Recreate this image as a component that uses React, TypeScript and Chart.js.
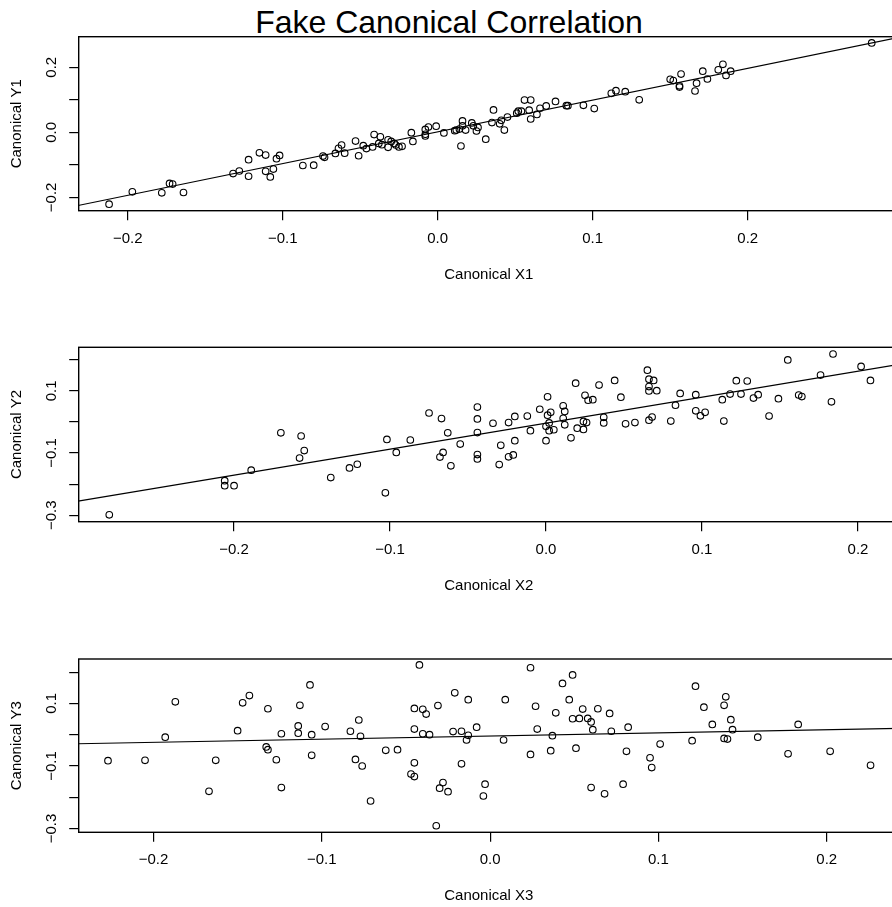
import React, { useEffect, useRef } from 'react';
import { Chart, registerables } from 'chart.js';

Chart.register(...registerables);

// ---------- Data ----------
const titleText = 'Fake Canonical Correlation';

const x1 = [-0.212, -0.197, -0.178, -0.173, -0.171, -0.164, -0.132, -0.128, -0.122, -0.122, -0.115, -0.111, -0.111, -0.108, -0.106, -0.104, -0.102, -0.087, -0.080, -0.074, -0.073, -0.066, -0.064, -0.062, -0.060, -0.053, -0.051, -0.048, -0.046, -0.042, -0.041, -0.037, -0.038, -0.036, -0.032, -0.032, -0.030, -0.028, -0.027, -0.025, -0.023, -0.017, -0.016, -0.008, -0.008, -0.008, -0.006, -0.001, 0.004, 0.011, 0.012, 0.015, 0.014, 0.016, 0.016, 0.018, 0.022, 0.023, 0.025, 0.026, 0.031, 0.035, 0.036, 0.040, 0.041, 0.043, 0.045, 0.051, 0.052, 0.054, 0.056, 0.060, 0.059, 0.060, 0.064, 0.066, 0.070, 0.076, 0.083, 0.084, 0.094, 0.101, 0.112, 0.115, 0.121, 0.130, 0.150, 0.152, 0.157, 0.156, 0.156, 0.167, 0.166, 0.171, 0.174, 0.181, 0.184, 0.186, 0.189, 0.280];
const y1 = [-0.221, -0.183, -0.186, -0.157, -0.159, -0.185, -0.127, -0.119, -0.084, -0.135, -0.063, -0.070, -0.120, -0.137, -0.113, -0.081, -0.071, -0.102, -0.101, -0.073, -0.077, -0.065, -0.049, -0.039, -0.064, -0.027, -0.072, -0.041, -0.050, -0.045, -0.007, -0.014, -0.034, -0.038, -0.023, -0.046, -0.028, -0.034, -0.039, -0.045, -0.043, -0.001, -0.028, -0.011, 0.009, -0.006, 0.016, 0.019, -0.002, 0.005, 0.007, -0.042, 0.010, 0.035, 0.020, 0.007, 0.029, 0.020, 0.004, 0.015, -0.021, 0.030, 0.069, 0.026, 0.037, 0.007, 0.047, 0.059, 0.065, 0.065, 0.099, 0.099, 0.068, 0.041, 0.055, 0.074, 0.081, 0.095, 0.082, 0.082, 0.083, 0.073, 0.120, 0.128, 0.125, 0.100, 0.163, 0.159, 0.179, 0.143, 0.139, 0.151, 0.127, 0.188, 0.164, 0.192, 0.209, 0.175, 0.188, 0.275];

const x2 = [-0.280, -0.206, -0.206, -0.200, -0.189, -0.170, -0.157, -0.155, -0.158, -0.138, -0.126, -0.121, -0.103, -0.102, -0.096, -0.087, -0.075, -0.067, -0.063, -0.066, -0.068, -0.061, -0.055, -0.044, -0.044, -0.044, -0.044, -0.044, -0.034, -0.029, -0.030, -0.024, -0.020, -0.020, -0.024, -0.021, -0.012, -0.010, -0.004, 0.001, 0.003, 0.001, 0.002, 0.000, 0.002, 0.000, 0.005, 0.011, 0.012, 0.011, 0.012, 0.016, 0.019, 0.025, 0.027, 0.030, 0.034, 0.020, 0.024, 0.026, 0.024, 0.037, 0.037, 0.044, 0.048, 0.051, 0.057, 0.065, 0.066, 0.069, 0.066, 0.066, 0.071, 0.066, 0.068, 0.080, 0.083, 0.086, 0.096, 0.096, 0.099, 0.102, 0.113, 0.114, 0.118, 0.122, 0.129, 0.125, 0.133, 0.136, 0.143, 0.149, 0.155, 0.162, 0.164, 0.176, 0.183, 0.184, 0.202, 0.208];
const y2 = [-0.299, -0.189, -0.205, -0.205, -0.155, -0.035, -0.045, -0.092, -0.116, -0.179, -0.148, -0.136, -0.228, -0.056, -0.098, -0.058, 0.029, 0.011, -0.035, -0.098, -0.113, -0.141, -0.071, 0.048, 0.010, -0.034, -0.105, -0.119, -0.004, -0.075, -0.137, -0.002, 0.018, -0.060, -0.112, -0.106, 0.019, -0.028, 0.041, 0.081, 0.031, 0.022, -0.003, -0.014, -0.028, -0.060, -0.025, 0.052, 0.034, 0.012, -0.009, -0.051, 0.125, 0.086, 0.070, 0.072, 0.119, -0.020, 0.002, -0.002, -0.024, -0.003, 0.015, 0.134, 0.080, -0.006, -0.002, 0.167, 0.138, 0.134, 0.114, 0.100, 0.101, 0.006, 0.016, 0.003, 0.054, 0.092, 0.088, 0.036, 0.020, 0.031, 0.072, 0.003, 0.090, 0.133, 0.132, 0.090, 0.077, 0.088, 0.019, 0.075, 0.200, 0.087, 0.082, 0.151, 0.065, 0.219, 0.179, 0.134];

const x3 = [-0.227, -0.205, -0.187, -0.193, -0.167, -0.163, -0.150, -0.147, -0.143, -0.132, -0.133, -0.132, -0.127, -0.124, -0.124, -0.114, -0.114, -0.113, -0.107, -0.106, -0.106, -0.098, -0.083, -0.078, -0.077, -0.080, -0.076, -0.071, -0.062, -0.055, -0.042, -0.045, -0.040, -0.038, -0.045, -0.040, -0.036, -0.045, -0.047, -0.045, -0.031, -0.028, -0.030, -0.025, -0.032, -0.021, -0.022, -0.017, -0.013, -0.013, -0.014, -0.017, -0.008, -0.003, -0.004, 0.009, 0.008, 0.024, 0.027, 0.028, 0.024, 0.036, 0.037, 0.039, 0.043, 0.049, 0.047, 0.051, 0.049, 0.053, 0.055, 0.058, 0.060, 0.061, 0.064, 0.060, 0.068, 0.071, 0.072, 0.079, 0.081, 0.082, 0.095, 0.096, 0.101, 0.120, 0.122, 0.127, 0.132, 0.139, 0.140, 0.143, 0.144, 0.139, 0.141, 0.159, 0.177, 0.183, 0.202, 0.226];
const y3 = [-0.083, -0.082, 0.105, -0.008, -0.181, -0.082, 0.013, 0.102, 0.125, 0.083, -0.039, -0.048, -0.080, -0.169, 0.003, 0.028, 0.005, 0.094, 0.159, 0.000, -0.066, 0.026, 0.011, 0.047, -0.005, -0.079, -0.100, -0.212, -0.050, -0.048, 0.223, 0.084, 0.081, 0.066, 0.018, 0.003, 0.000, -0.090, -0.126, -0.134, 0.093, -0.153, -0.171, -0.182, -0.291, 0.134, 0.010, 0.011, 0.112, -0.002, -0.017, -0.093, 0.024, -0.158, -0.196, 0.112, -0.017, 0.214, 0.091, 0.018, -0.063, -0.051, -0.003, 0.070, 0.164, 0.191, 0.112, -0.043, 0.051, 0.052, 0.082, 0.052, 0.041, 0.016, 0.083, -0.169, -0.189, 0.068, 0.011, -0.158, -0.053, 0.024, -0.074, -0.105, -0.030, -0.019, 0.155, 0.088, 0.033, 0.094, 0.121, 0.048, 0.016, -0.012, -0.014, -0.008, -0.061, 0.033, -0.053, -0.098];

// fitted lines (end points)
const lineX1 = [-0.232, 0.298];
const lineY1 = [-0.225, 0.292];
const lineX2 = [-0.300, 0.227];
const lineY2 = [-0.255, 0.186];
const lineX3 = [-0.245, 0.243];
const lineY3 = [-0.029, 0.020];

// axis limits
const xLim1 = [-0.2316, 0.2976];
const yLim1 = [-0.241, 0.294];
const xLim2 = [-0.2996, 0.2263];
const yLim2 = [-0.321, 0.2405];
const xLim3 = [-0.2444, 0.2429];
const yLim3 = [-0.312, 0.242];

// ticks
const xTicks = [-0.2, -0.1, 0, 0.1, 0.2];
const xTickLabels = ['\u22120.2', '\u22120.1', '0.0', '0.1', '0.2'];
const yTicks1 = [-0.2, -0.1, 0, 0.1, 0.2];
const yTickLabels1 = ['\u22120.2', '', '0.0', '', '0.2'];
const yTicks23 = [-0.3, -0.2, -0.1, 0, 0.1, 0.2];
const yTickLabels23 = ['\u22120.3', '', '\u22120.1', '', '0.1', ''];

const xTitles = ['Canonical X1', 'Canonical X2', 'Canonical X3'];
const yTitles = ['Canonical Y1', 'Canonical Y2', 'Canonical Y3'];

// ---------- Layout ----------
const FONT = '"Liberation Sans", Arial, Helvetica, sans-serif';
const CW = 920;
const CH = 311;
const PLOT_LEFT = 78.7;
const PLOT_RIGHT = 899;

const panels = [
  { canvasTop: 0, padTop: 36.7, areaH: 174, xs: x1, ys: y1, lx: lineX1, ly: lineY1, xLim: xLim1, yLim: yLim1, yTicks: yTicks1, yLabels: yTickLabels1 },
  { canvasTop: 311, padTop: 36.3, areaH: 174.4, xs: x2, ys: y2, lx: lineX2, ly: lineY2, xLim: xLim2, yLim: yLim2, yTicks: yTicks23, yLabels: yTickLabels23 },
  { canvasTop: 623, padTop: 36, areaH: 173.3, xs: x3, ys: y3, lx: lineX3, ly: lineY3, xLim: xLim3, yLim: yLim3, yTicks: yTicks23, yLabels: yTickLabels23 },
];

const boxPlugin = {
  id: 'rbox',
  afterDraw(chart: any) {
    const { ctx, chartArea } = chart;
    const { left, top, right, bottom } = chartArea;
    ctx.save();
    ctx.strokeStyle = '#000';
    ctx.lineWidth = 1.4;
    ctx.strokeRect(left, top, right - left, bottom - top);
    ctx.restore();
  },
};

function Panel({ idx }: { idx: number }) {
  const ref = useRef<HTMLCanvasElement | null>(null);
  const p = panels[idx];
  useEffect(() => {
    if (!ref.current) return;
    const xAxisH = CH - p.padTop - p.areaH;
    const chart = new Chart(ref.current, {
      type: 'scatter',
      data: {
        datasets: [
          {
            data: p.xs.map((x, i) => ({ x, y: p.ys[i] })),
            pointStyle: 'circle',
            pointRadius: 3.3,
            pointHoverRadius: 3.3,
            pointBorderWidth: 1.1,
            borderColor: '#000',
            backgroundColor: 'rgba(0,0,0,0)',
          } as any,
          {
            type: 'line',
            data: p.lx.map((x, i) => ({ x, y: p.ly[i] })),
            borderColor: '#000',
            borderWidth: 1.2,
            pointRadius: 0,
            fill: false,
            tension: 0,
            showLine: true,
          } as any,
        ],
      },
      options: {
        responsive: false,
        animation: false,
        devicePixelRatio: 1,
        events: [],
        layout: { padding: { top: p.padTop, left: 0, right: CW - PLOT_RIGHT, bottom: 0 } },
        plugins: {
          legend: { display: false },
          tooltip: { enabled: false },
          title: { display: false },
        },
        scales: {
          x: {
            type: 'linear',
            position: 'bottom',
            min: p.xLim[0],
            max: p.xLim[1],
            afterBuildTicks: (s: any) => {
              s.ticks = xTicks.map((v) => ({ value: v }));
            },
            afterFit: (s: any) => {
              s.height = xAxisH;
            },
            ticks: {
              autoSkip: false,
              minRotation: 0,
              maxRotation: 0,
              padding: 9.5,
              color: '#000',
              font: { family: FONT, size: 15 },
              callback: (_v: any, i: number) => xTickLabels[i],
            },
            grid: { drawOnChartArea: false, drawTicks: true, tickLength: 9.5, color: '#000', lineWidth: 1.2 },
            border: { display: false },
            title: {
              display: true,
              text: xTitles[idx],
              color: '#000',
              font: { family: FONT, size: 15 },
              padding: { top: 0, bottom: CH - (p.padTop + p.areaH + 64 + 9) },
            },
          },
          y: {
            type: 'linear',
            position: 'left',
            min: p.yLim[0],
            max: p.yLim[1],
            afterBuildTicks: (s: any) => {
              s.ticks = p.yTicks.map((v) => ({ value: v }));
            },
            afterFit: (s: any) => {
              s.width = PLOT_LEFT;
            },
            ticks: {
              autoSkip: false,
              minRotation: 90,
              maxRotation: 90,
              crossAlign: 'center',
              padding: 2.7,
              color: '#000',
              font: { family: FONT, size: 15 },
              callback: (_v: any, i: number) => p.yLabels[i],
            },
            grid: { drawOnChartArea: false, drawTicks: true, tickLength: 9.5, color: '#000', lineWidth: 1.2 },
            border: { display: false },
            title: {
              display: true,
              text: yTitles[idx],
              color: '#000',
              font: { family: FONT, size: 15 },
              padding: { top: 7.7, bottom: 0 },
            },
          },
        },
      } as any,
      plugins: [boxPlugin],
    });
    return () => chart.destroy();
  }, []);
  return (
    <canvas
      ref={ref}
      width={CW}
      height={CH}
      style={{ position: 'absolute', left: 0, top: p.canvasTop, width: CW, height: CH }}
    />
  );
}

export default function App() {
  return (
    <div
      style={{
        position: 'absolute',
        left: 0,
        top: 0,
        width: 892,
        height: 907,
        overflow: 'hidden',
        background: '#fff',
      }}
    >
      <div
        style={{
          position: 'absolute',
          left: 0,
          top: 5.6,
          width: 898,
          textAlign: 'center',
          fontFamily: FONT,
          fontSize: 32,
          lineHeight: '32px',
          color: '#000',
          whiteSpace: 'nowrap',
        }}
      >
        {titleText}
      </div>
      <Panel idx={0} />
      <Panel idx={1} />
      <Panel idx={2} />
    </div>
  );
}
